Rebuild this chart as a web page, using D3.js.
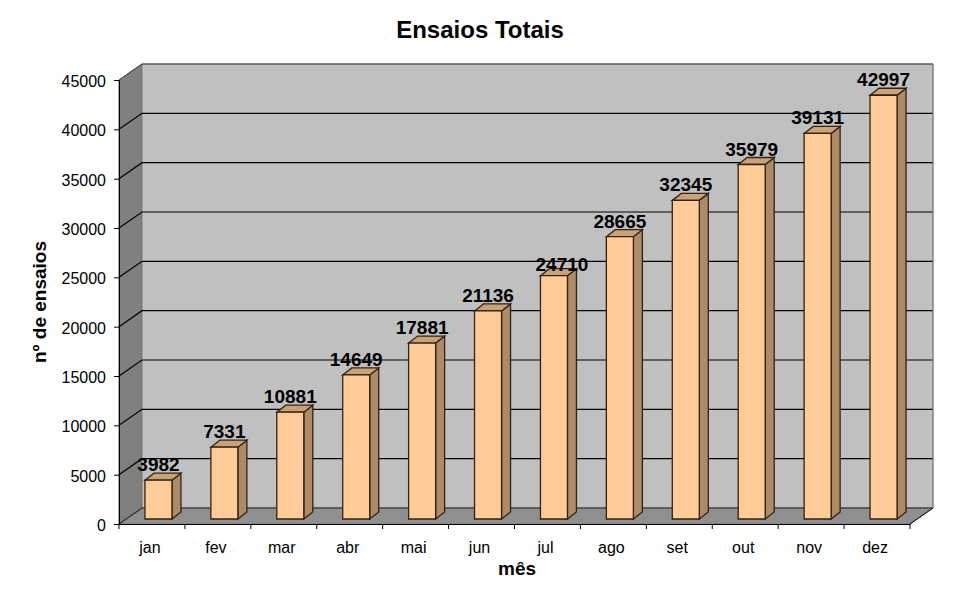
<!DOCTYPE html>
<html><head><meta charset="utf-8">
<script src="https://cdn.jsdelivr.net/npm/d3@7"></script>
<style>html,body{margin:0;background:#fff}svg{display:block}text{font-family:"Liberation Sans",Arial,sans-serif;fill:#000}</style>
</head><body><div id="c"></div>
<script>
const months=["jan","fev","mar","abr","mai","jun","jul","ago","set","out","nov","dez"];
const totals=[3982,7331,10881,14649,17881,21136,24710,28665,32345,35979,39131,42997];
const yTicks=[0,5000,10000,15000,20000,25000,30000,35000,40000,45000];
const chartTitle="Ensaios Totais", xTitle="mês", yTitle="nº de ensaios";

const W=962,H=596;
const L=119,R=910,B=524,T=80,dx=23,dy=16;
const svg=d3.select("#c").append("svg").attr("width",W).attr("height",H);
const x=d3.scaleBand().domain(months).range([L,R]);
const y=d3.scaleLinear().domain([0,45000]).range([B,T]);
const poly=(pts,fill,stroke,sw)=>svg.append("polygon").attr("points",pts.map(p=>p.join(",")).join(" "))
  .attr("fill",fill).attr("stroke",stroke||"none").attr("stroke-width",sw||1);

// walls
poly([[L,B],[L+dx,B-dy],[L+dx,T-dy],[L,T]],"#808080","#555",1);
poly([[L+dx,B-dy],[R+dx,B-dy],[R+dx,T-dy],[L+dx,T-dy]],"#c0c0c0","#808080",1);
poly([[L,B],[R,B],[R+dx,B-dy],[L+dx,B-dy]],"#8f8f8f","#777",1);

// gridlines
svg.append("g").selectAll("path").data(yTicks.slice(1,-1).concat([0])).join("path")
  .attr("d",d=>`M${L},${y(d)}L${L+dx},${y(d)-dy}L${R+dx},${y(d)-dy}`)
  .attr("fill","none").attr("stroke",d=>d===0?"#333":"#000").attr("stroke-width",1.2);
svg.append("path").attr("d",`M${L},${T}L${L+dx},${T-dy}L${R+dx},${T-dy}`).attr("fill","none").attr("stroke","#444");
svg.append("path").attr("d",`M${R},${B}L${R+dx},${B-dy}`).attr("fill","none").attr("stroke","#000");
svg.append("path").attr("d",`M${R+dx},${B-dy}L${R+dx},${T-dy}`).attr("fill","none").attr("stroke","#808080");

// axes
const yAxis=d3.axisLeft(y).tickValues(yTicks).tickFormat(d3.format("d")).tickSize(5).tickPadding(8);
const ya=svg.append("g").attr("transform",`translate(${L},0)`).call(yAxis);
ya.selectAll("text").attr("font-size",16).attr("dy","0.4em");
ya.select(".domain").attr("stroke","#000");

const xAxis=d3.axisBottom(x).tickSize(0).tickPadding(17);
const xa=svg.append("g").attr("transform",`translate(0,${B})`).call(xAxis);
xa.selectAll("text").attr("font-size",16).attr("dx",-2).attr("dy","0.74em");
xa.select(".domain").attr("stroke","#000");
xa.selectAll(".bt").data(months.concat(["end"])).join("line").attr("class","bt")
  .attr("x1",(d,i)=>L+i*x.bandwidth()).attr("x2",(d,i)=>L+i*x.bandwidth())
  .attr("y1",0).attr("y2",5).attr("stroke","#000");

// bars
const bw=27,bx=9,by=7,base=5;
const barY=v=>y(v)-base+0.5;
months.forEach((m,i)=>{
  const v=totals[i];
  const x0=x(m)+x.bandwidth()/2-bw/2+6.5, x1=x0+bw, yb=B-base, yt=barY(v);
  const edge="#33220f";
  poly([[x1,yb],[x1+bx,yb-by],[x1+bx,yt-by],[x1,yt]],"#ad8b68",edge,1.3);
  poly([[x0,yt],[x0+bx,yt-by],[x1+bx,yt-by],[x1,yt]],"#c9a27b",edge,1.3);
  poly([[x0,yb],[x1,yb],[x1,yt],[x0,yt]],"#ffcc99",edge,1.3);
});
// value labels (the "jul" label sits lower and further right in the reference)
const nudged=m=>m==="jul";
svg.append("g").selectAll("text").data(totals).join("text")
  .attr("x",(d,i)=>x(months[i])+x.bandwidth()/2+6.5+(nudged(months[i])?8:0))
  .attr("y",(d,i)=>barY(d)-9+(nudged(months[i])?4:0))
  .attr("text-anchor","middle").attr("font-size",19).attr("font-weight","bold")
  .text(d=>d);

// titles
svg.append("text").attr("x",480).attr("y",38).attr("text-anchor","middle").attr("font-size",24).attr("font-weight","bold").text(chartTitle);
svg.append("text").attr("x",517).attr("y",575).attr("text-anchor","middle").attr("font-size",19).attr("font-weight","bold").text(xTitle);
svg.append("text").attr("transform","translate(46,302) rotate(-90)").attr("text-anchor","middle").attr("font-size",19).attr("font-weight","bold").text(yTitle);
</script></body></html>
